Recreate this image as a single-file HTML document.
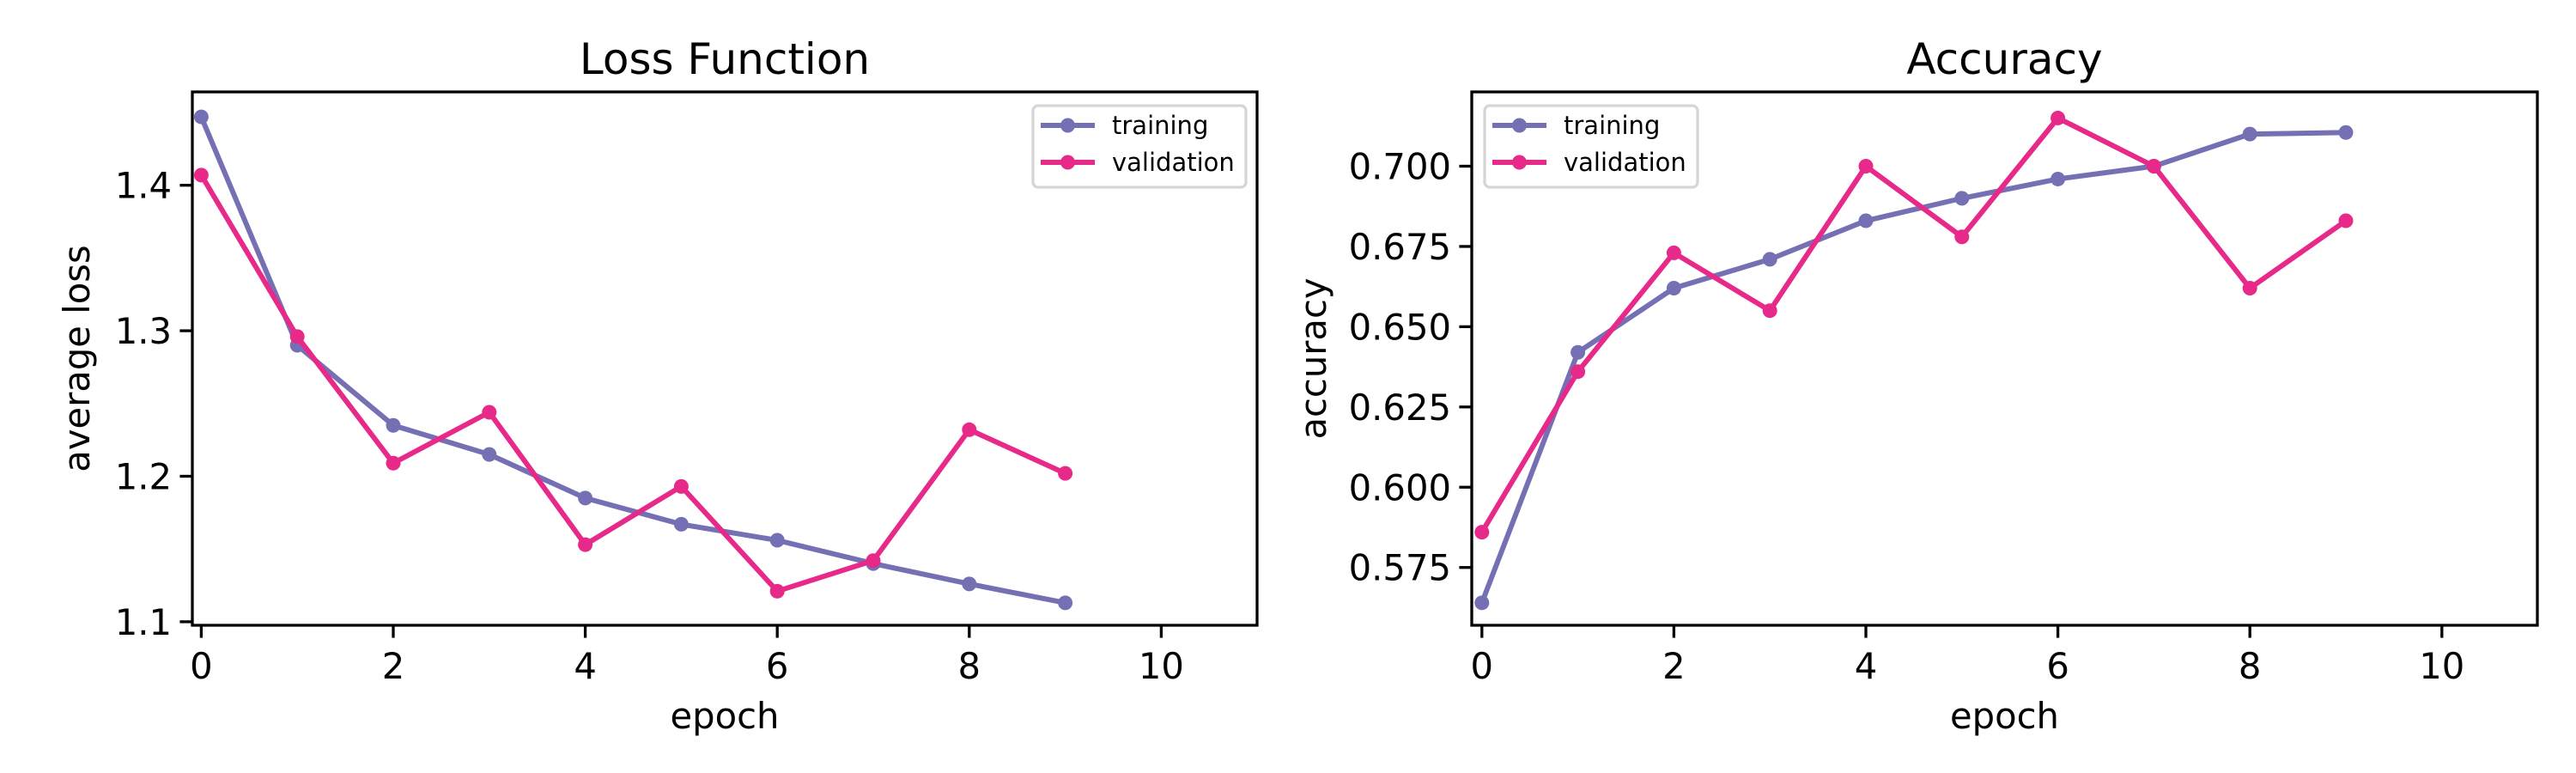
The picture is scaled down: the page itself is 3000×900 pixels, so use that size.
<!DOCTYPE html>
<html><head><meta charset="utf-8"><style>
html,body{margin:0;padding:0;background:#fff}
svg{display:block;font-family:"DejaVu Sans","Liberation Sans",sans-serif}
</style></head><body>
<svg id="fig" width="3000" height="900" viewBox="0 0 3000 900" xmlns="http://www.w3.org/2000/svg"></svg>
<script>
const epochs = [0,1,2,3,4,5,6,7,8,9];
const lossTraining = [1.447,1.290,1.235,1.215,1.185,1.167,1.156,1.140,1.126,1.113];
const lossValidation = [1.407,1.296,1.209,1.244,1.153,1.193,1.121,1.142,1.232,1.202];
const accTraining = [0.564,0.642,0.662,0.671,0.683,0.690,0.696,0.700,0.710,0.7105];
const accValidation = [0.586,0.636,0.673,0.655,0.700,0.678,0.715,0.700,0.662,0.683];
const xTicks = [0,2,4,6,8,10];
const lossTicks = [1.1,1.2,1.3,1.4];
const accTicks = [0.575,0.600,0.625,0.650,0.675,0.700];

const NS='http://www.w3.org/2000/svg';
const svg=document.getElementById('fig');
function mk(tag,attrs,parent){const e=document.createElementNS(NS,tag);for(const k in attrs)e.setAttribute(k,attrs[k]);(parent||svg).appendChild(e);return e;}
const C_T='#7570b3', C_V='#e7298a';

function panel(opt){
  const g=mk('g',{});
  
  
  const L=opt.left,R=opt.right,T=107,B=728;
  const xs=v=>opt.x0px+(v)*111.8;
  const ys=v=>opt.y0px-(v-opt.y0val)*opt.ppu;
  const t=mk('text',{x:(L+R)/2,y:86,'text-anchor':'middle','font-size':50,fill:'#000'},g);
  t.textContent=opt.title;
  
  
  xTicks.forEach(v=>{
    const x=xs(v);
    const tk=mk('line',{x1:x,x2:x,y1:B,y2:B+14.6,stroke:'#000','stroke-width':3.3},g);
    
    
    const lb=mk('text',{x:x,y:790,'text-anchor':'middle','font-size':41.7},g);
    lb.textContent=String(v);
    
    
  });
  opt.ticks.forEach(v=>{
    const y=ys(v);
    const tk=mk('line',{x1:L-14.6,x2:L,y1:y,y2:y,stroke:'#000','stroke-width':3.3},g);
    
    
    const lb=mk('text',{x:L-24,y:y+15,'text-anchor':'end','font-size':41.7},g);
    lb.textContent=v.toFixed(opt.dec);
    
    
  });
  const xl=mk('text',{x:(L+R)/2,y:848,'text-anchor':'middle','font-size':41.7},g);
  xl.textContent='epoch';
  
  
  const yl=mk('text',{x:0,y:0,'text-anchor':'middle','font-size':41.7,transform:`translate(${opt.ylx},${(T+B)/2}) rotate(-90)`},g);
  yl.textContent=opt.ylabel;
  
  
  [[opt.tr,C_T,'training-series'],[opt.va,C_V,'validation-series']].forEach(([d,c,n])=>{
    const sg=mk('g',{},g);
    
    
    const pl=mk('polyline',{points:epochs.map((e,i)=>xs(e)+','+ys(d[i])).join(' '),fill:'none',stroke:c,'stroke-width':6,'stroke-linejoin':'round','stroke-linecap':'square'},sg);
    
    
    epochs.forEach((e,i)=>{
      const m=mk('circle',{cx:xs(e),cy:ys(d[i]),r:8.5,fill:c},sg);
      
      
    });
  });
  const fr=mk('rect',{x:L,y:T,width:R-L,height:B-T,fill:'none',stroke:'#000','stroke-width':3.3},g);
  
  
  const lg=mk('g',{},g);
  
  
  const lx=opt.legX;
  mk('rect',{x:lx,y:123,width:248,height:95,rx:6,fill:'#fff','fill-opacity':0.8,stroke:'#d6d6d6','stroke-width':3.3},lg);
  [['training',C_T,146],['validation',C_V,189]].forEach(([s,c,y])=>{
    const en=mk('g',{},lg);
    
    
    mk('line',{x1:lx+9,x2:lx+72,y1:y,y2:y,stroke:c,'stroke-width':6},en);
    mk('circle',{cx:lx+40.5,cy:y,r:8.5,fill:c},en);
    const tx=mk('text',{x:lx+92,y:y+10,'font-size':29},en);
    tx.textContent=s;
  });
}
panel({name:'loss-chart',title:'Loss Function',left:224,right:1464,x0px:234.4,y0val:1.1,y0px:723.9,ppu:1694,ticks:lossTicks,dec:1,tr:lossTraining,va:lossValidation,ylabel:'average loss',ylx:104,legX:1203});
panel({name:'accuracy-chart',title:'Accuracy',left:1714,right:2955,x0px:1725.8,y0val:0.575,y0px:660.7,ppu:3737.6,ticks:accTicks,dec:3,tr:accTraining,va:accValidation,ylabel:'accuracy',ylx:1544,legX:1729});
</script>
</body></html>
